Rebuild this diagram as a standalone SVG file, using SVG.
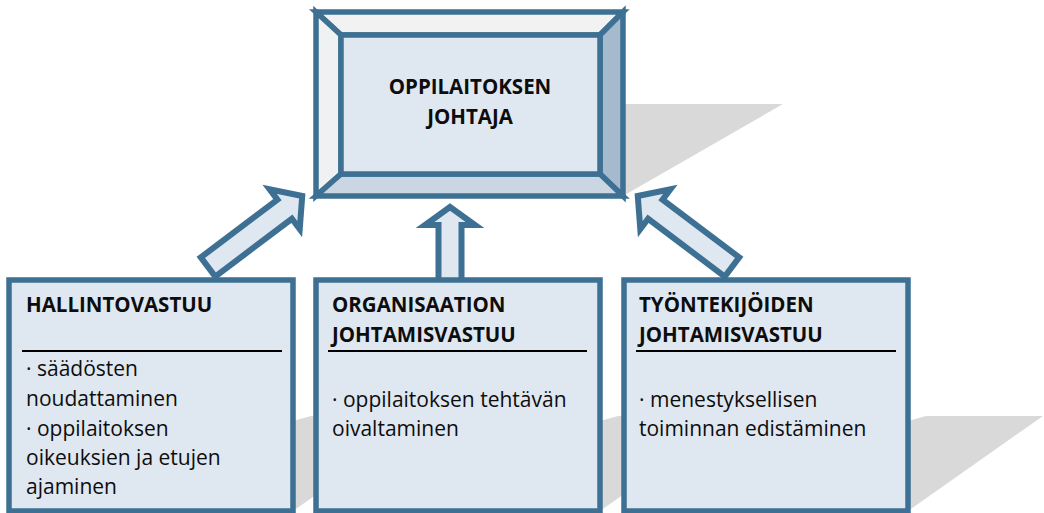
<svg xmlns="http://www.w3.org/2000/svg" width="1044" height="513" viewBox="0 0 1044 513">
  <defs>
    <style>
      .edge { stroke: #3d7093; stroke-width: 5.5; stroke-linejoin: miter; }
      .face { fill: #dfe7f0; }
      .shadow { fill: #d9d9d9; }
      .arrow { fill: #dfe7f0; stroke: #3d7093; stroke-width: 6; stroke-linejoin: miter; }
      .title { font-family: "Open Sans", "Liberation Sans", sans-serif; font-weight: bold; font-size: 20.5px; fill: #0d0d0d; }
      .body { font-family: "Open Sans", "Liberation Sans", sans-serif; font-size: 21px; fill: #0d0d0d; }
      .rule { stroke: #000; stroke-width: 2; }
    </style>
    <!-- block arrow pointing along +x, tail at the origin -->
    <path id="arrowDiag" d="M0,-12 L96,-12 L96,-25 L118,0 L96,25 L96,12 L0,12 Z"/>
  </defs>

  <!-- cast shadows -->
  <g id="shadows">
    <polygon class="shadow" points="623,104 783,104 623,196"/>
    <polygon class="shadow" points="293,421 311,416 428,416 293,511"/>
    <polygon class="shadow" points="600,421 618,416 735,416 600,511"/>
    <polygon class="shadow" points="908,421 926,416 1043,416 908,511"/>
  </g>

  <!-- connectors: block arrows from the three areas up to the head -->
  <g id="connectors">
    <use href="#arrowDiag" class="arrow" transform="translate(208,267) rotate(-37)"/>
    <path class="arrow" d="M438.5,282 L438.5,225 L425,225 L450,207 L475,225 L461.5,225 L461.5,282 Z"/>
    <use href="#arrowDiag" class="arrow" transform="translate(732,267) rotate(-143)"/>
  </g>

  <!-- bevelled head box -->
  <g id="head">
    <polygon class="edge" fill="#f2f2f2" points="316,12 623,12 600,35 341,35"/>
    <polygon class="edge" fill="#f0f1f2" points="316,12 341,35 341,174 316,196"/>
    <polygon class="edge" fill="#a5bacd" points="623,12 623,196 600,174 600,35"/>
    <polygon class="edge" fill="#cad7e3" points="316,196 341,174 600,174 623,196"/>
    <rect class="edge face" x="341" y="35" width="259" height="139"/>
    <text class="title" x="470" y="94" text-anchor="middle">OPPILAITOKSEN</text>
    <text class="title" x="470" y="124" text-anchor="middle">JOHTAJA</text>
  </g>

  <g id="hallinto">
    <rect class="edge face" x="9" y="280" width="284" height="231"/>
    <text class="title" x="26" y="312">HALLINTOVASTUU</text>
    <line class="rule" x1="22" y1="351" x2="282" y2="351"/>
    <text class="body" x="26" y="376">· säädösten</text>
    <text class="body" x="26" y="406">noudattaminen</text>
    <text class="body" x="26" y="436">· oppilaitoksen</text>
    <text class="body" x="26" y="465">oikeuksien ja etujen</text>
    <text class="body" x="26" y="494">ajaminen</text>
  </g>

  <g id="organisaatio">
    <rect class="edge face" x="316" y="280" width="284" height="231"/>
    <text class="title" x="332" y="312">ORGANISAATION</text>
    <text class="title" x="332" y="342">JOHTAMISVASTUU</text>
    <line class="rule" x1="328" y1="351" x2="587" y2="351"/>
    <text class="body" x="332" y="407">· oppilaitoksen tehtävän</text>
    <text class="body" x="332" y="436">oivaltaminen</text>
  </g>

  <g id="tyontekijat">
    <rect class="edge face" x="624" y="280" width="284" height="231"/>
    <text class="title" x="639" y="312">TYÖNTEKIJÖIDEN</text>
    <text class="title" x="639" y="342">JOHTAMISVASTUU</text>
    <line class="rule" x1="636" y1="351" x2="896" y2="351"/>
    <text class="body" x="639" y="407">· menestyksellisen</text>
    <text class="body" x="639" y="436">toiminnan edistäminen</text>
  </g>
</svg>
